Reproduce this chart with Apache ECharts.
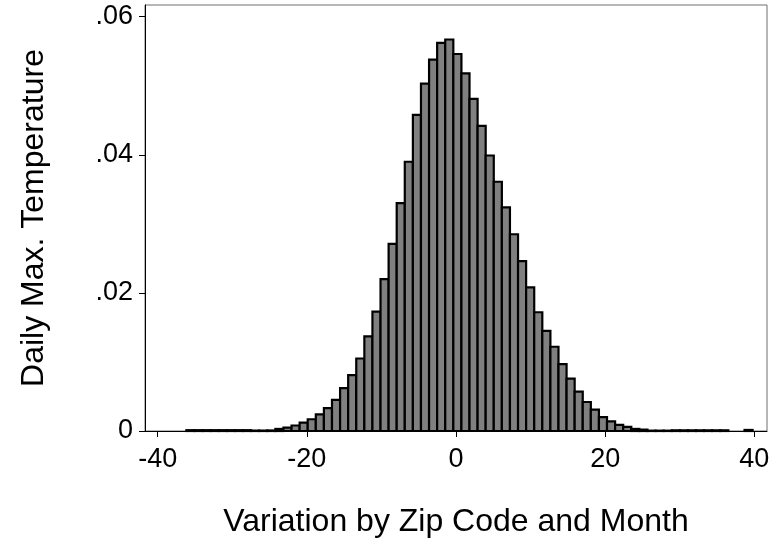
<!DOCTYPE html>
<html>
<head>
<meta charset="utf-8">
<script src="https://cdn.jsdelivr.net/npm/echarts@6/dist/echarts.min.js"></script>
<style>
html,body{margin:0;padding:0;background:#fff;}
#chart{width:784px;height:543px;}
</style>
</head>
<body>
<div id="chart"></div>
<script>
// Histogram definition: first bin edge and bin width (in x units)
var binStart = -36.15;
var binWidth = 1.0846;
// Density per bin (70 bins)
var density = [
  0.00012, 0.00012, 0.00012, 0.00012, 0.00012, 0.00012, 0.00012, 0.00012,
  0.00006, 0.00006, 0.00008,
  0.00030, 0.00050, 0.00080, 0.00120, 0.00170, 0.00240, 0.00330, 0.00450,
  0.00620, 0.00810, 0.01050, 0.01370, 0.01730, 0.02200, 0.02710, 0.03300,
  0.03900, 0.04580, 0.05030, 0.05380, 0.05620, 0.05670, 0.05460, 0.05180,
  0.04810, 0.04420, 0.03990, 0.03610, 0.03240, 0.02850, 0.02460, 0.02080,
  0.01720, 0.01450, 0.01220, 0.00970, 0.00760, 0.00570, 0.00420, 0.00310,
  0.00200, 0.00140, 0.00090, 0.00060, 0.00030, 0.00020,
  0.00005, 0.00005, 0.00005, 0.00010, 0.00010, 0.00010, 0.00010, 0.00010,
  0.00010, 0.00010, 0, 0, 0.00015
];
var xTicks = [-40, -20, 0, 20, 40];
var xTickLabels = ['-40', '-20', '0', '20', '40'];
var yTicks = [0, 0.02, 0.04, 0.06];
var yTickLabels = ['0', '.02', '.04', '.06'];
var xTitle = 'Variation by Zip Code and Month';
var yTitle = 'Daily Max. Temperature';

var bars = density.map(function (v, i) {
  return [binStart + i * binWidth, binStart + (i + 1) * binWidth, v];
});

var font = '"Liberation Sans", Arial, sans-serif';
var chart = echarts.init(document.getElementById('chart'), null, {renderer: 'canvas'});
chart.setOption({
  animation: false,
  backgroundColor: '#fff',
  grid: {left: 145, right: 17, top: 5, bottom: 111, show: true, borderColor: '#6e6e6e', borderWidth: 1, backgroundColor: 'transparent'},
  xAxis: {
    type: 'value', min: -41.7, max: 41.7,
    splitLine: {show: false},
    axisLine: {show: true, onZero: false, lineStyle: {color: '#000', width: 1}},
    axisTick: {show: true, length: 6, lineStyle: {color: '#000'}, customValues: xTicks},
    axisLabel: {
      customValues: xTicks, margin: 15, color: '#000', fontSize: 27, fontFamily: font,
      formatter: function (v) { var k = xTicks.indexOf(v); return k >= 0 ? xTickLabels[k] : ''; }
    },
    name: xTitle, nameLocation: 'middle', nameGap: 75,
    nameTextStyle: {color: '#000', fontSize: 32, fontFamily: font}
  },
  yAxis: {
    type: 'value', min: 0, max: 0.0617,
    splitLine: {show: false},
    axisLine: {show: true, onZero: false, lineStyle: {color: '#000', width: 1}},
    axisTick: {show: true, length: 6, lineStyle: {color: '#000'}, customValues: yTicks},
    axisLabel: {
      customValues: yTicks, margin: 12, color: '#000', fontSize: 27, fontFamily: font,
      formatter: function (v) { var k = yTicks.indexOf(v); return k >= 0 ? yTickLabels[k] : ''; }
    },
    name: yTitle, nameLocation: 'middle', nameGap: 95, nameRotate: 90,
    nameTextStyle: {color: '#000', fontSize: 32, fontFamily: font}
  },
  series: [{
    type: 'custom',
    data: bars,
    encode: {x: [0, 1], y: 2},
    renderItem: function (params, api) {
      var v = api.value(2);
      if (!v) { return null; }
      var p0 = api.coord([api.value(0), v]);
      var p1 = api.coord([api.value(1), 0]);
      return {
        type: 'rect',
        shape: {x: p0[0], y: p0[1], width: p1[0] - p0[0], height: p1[1] - p0[1]},
        style: {fill: '#808080', stroke: '#000', lineWidth: 2.2}
      };
    }
  }]
});
</script>
</body>
</html>
